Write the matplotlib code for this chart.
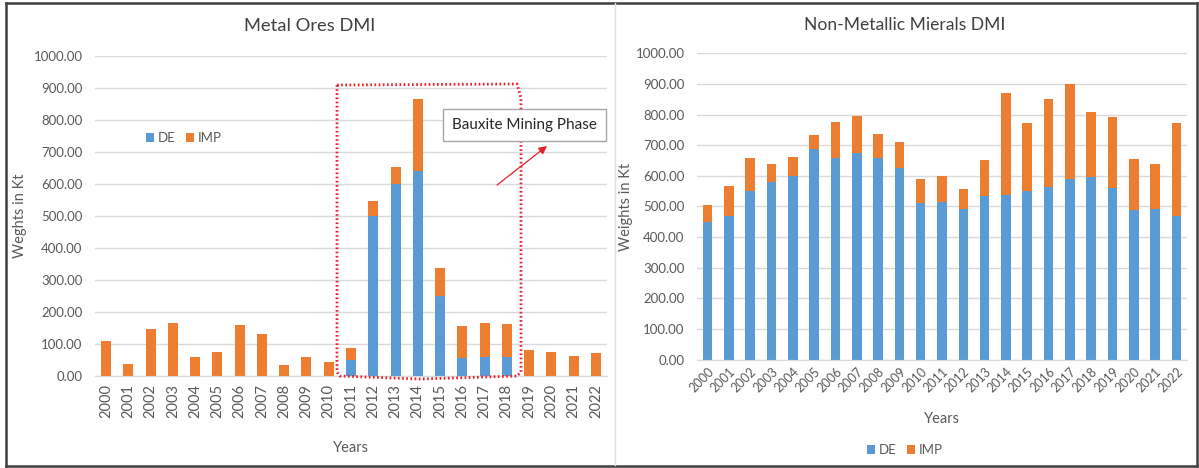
import matplotlib.pyplot as plt
from matplotlib.patches import Rectangle, Polygon
from matplotlib.lines import Line2D
import numpy as np

plt.rcParams['font.family'] = ['Lato', 'DejaVu Sans']

years = [str(y) for y in range(2000, 2023)]

# Metal ores: domestic extraction and imports (kt)
metal_de = [0, 0, 0, 0, 0, 0, 0, 0, 0, 0, 0,
            49, 500, 600, 639, 249, 55, 57, 57,
            0, 0, 0, 0]
metal_imp = [110, 37, 145, 164, 57, 74, 158, 130, 34, 59, 44,
             39, 48, 54, 227, 88, 101, 107, 105,
             79, 74, 63, 72]

# Non-metallic minerals: domestic extraction and imports (kt)
nonmet_de = [451, 470, 551, 580, 601, 687, 658, 673, 658, 625, 512, 514,
             493, 533, 539, 551, 563, 591, 595, 560, 488, 493, 470]
nonmet_imp = [55, 98, 106, 59, 59, 47, 119, 123, 79, 86, 77, 87,
              63, 119, 330, 221, 288, 309, 213, 231, 167, 145, 302]

blue = '#5B9BD5'
orange = '#ED7D31'
grid_c = '#D9D9D9'
text_c = '#595959'

W, H = 1199, 468
fig = plt.figure(figsize=(W / 100, H / 100), dpi=100)


def fx(px):
    return px / W


def fy(py):
    return 1 - py / H


def style_axes(ax):
    ax.set_ylim(0, 1000)
    ax.set_xlim(-0.5, len(years) - 0.5)
    ax.set_yticks(np.arange(0, 1001, 100))
    ax.set_yticklabels(['%.2f' % v for v in np.arange(0, 1001, 100)])
    ax.yaxis.grid(True, color=grid_c, lw=1)
    ax.set_axisbelow(True)
    for s in ['top', 'right', 'left']:
        ax.spines[s].set_visible(False)
    ax.spines['bottom'].set_color(grid_c)
    ax.tick_params(length=0, colors=text_c, labelsize=9.5)
    ax.tick_params(axis='y', pad=9)


x = np.arange(len(years))

# left chart
ax1 = fig.add_axes([fx(95), fy(375.7), fx(512), (375.7 - 56) / H])
ax1.bar(x, metal_de, width=0.45, color=blue, label='DE')
ax1.bar(x, metal_imp, width=0.45, bottom=metal_de, color=orange, label='IMP')
style_axes(ax1)
ax1.set_xticks(x)
ax1.set_xticklabels(years, rotation=90, fontsize=10.5)
ax1.tick_params(axis='x', pad=6)
ax1.set_ylabel('Weghts in Kt', color=text_c, fontsize=10.5)
ax1.yaxis.set_label_coords(fx(27 - 95) / fx(512), 0.5)
ax1.set_xlabel('Years', color=text_c, fontsize=10.5)
ax1.xaxis.set_label_coords(0.5, -(441 - 375.7) / (375.7 - 56))
ax1.legend(loc='center', bbox_to_anchor=((184 - 95) / 512, (375.7 - 138) / 319.7),
           ncol=2, frameon=False, fontsize=9.5, handlelength=0.6, handleheight=0.6,
           handletextpad=0.3, columnspacing=0.8, labelcolor=text_c)


def to_data(px, py):
    return ((px - 95) / (512 / 23) - 0.5, (375.7 - py) / 0.3197)


# dotted outline round the bauxite years
outline_px = [(337, 85), (517, 84), (521, 98), (521, 372), (517, 376),
              (420, 379), (340, 376), (337, 372)]
ax1.add_patch(Polygon([to_data(*p) for p in outline_px], closed=True, fill=False,
                      edgecolor='#E8202A', lw=2, ls=(0, (0.6, 0.9)),
                      clip_on=False, zorder=5))
ax1.annotate('', xy=to_data(547, 146), xytext=to_data(497, 185),
             arrowprops=dict(arrowstyle='-|>', color='#E8202A', lw=0.9,
                             mutation_scale=12, shrinkA=0, shrinkB=0),
             annotation_clip=False, zorder=6)
fig.patches.append(Rectangle((fx(443), fy(141)), fx(163), (141 - 109) / H,
                             transform=fig.transFigure, facecolor='white',
                             edgecolor='#A6A6A6', lw=1, zorder=7))
fig.text(fx(524.5), fy(125.5), 'Bauxite Mining Phase', ha='center', va='center',
         fontsize=11, color='#262626', zorder=8)
fig.text(fx(310), fy(26), 'Metal Ores DMI', ha='center', va='center',
         fontsize=13.2, color='#404040')

# right chart
ax2 = fig.add_axes([fx(697), fy(359.7), fx(490), (359.7 - 53.3) / H])
ax2.bar(x, nonmet_de, width=0.45, color=blue, label='DE')
ax2.bar(x, nonmet_imp, width=0.45, bottom=nonmet_de, color=orange, label='IMP')
style_axes(ax2)
ax2.set_xticks(x)
ax2.set_xticklabels(years, rotation=45, ha='right', rotation_mode='anchor', fontsize=9)
ax2.tick_params(axis='x', pad=4)
ax2.set_ylabel('Weights in Kt', color=text_c, fontsize=10.5)
ax2.yaxis.set_label_coords(fx(633 - 697) / fx(490), 0.5)
ax2.set_xlabel('Years', color=text_c, fontsize=10.5)
ax2.xaxis.set_label_coords(0.5, -(412 - 359.7) / (359.7 - 53.3))
ax2.legend(loc='center', bbox_to_anchor=((905 - 697) / 490, -(450 - 359.7) / 306.4),
           ncol=2, frameon=False, fontsize=9.5, handlelength=0.6, handleheight=0.6,
           handletextpad=0.3, columnspacing=0.8, labelcolor=text_c)
fig.text(fx(905), fy(25), 'Non-Metallic Mierals DMI', ha='center', va='center',
         fontsize=12.6, color='#404040')

# panel frames
frame_c = '#3F3F3F'
for xs, ys in [([6, 1197], [2.5, 2.5]), ([6, 1197], [465.5, 465.5]),
               ([6, 6], [2.5, 465.5]), ([1196.5, 1196.5], [2.5, 465.5])]:
    fig.add_artist(Line2D([fx(v) for v in xs], [fy(v) for v in ys],
                          transform=fig.transFigure, color=frame_c, lw=1.8))
fig.add_artist(Line2D([fx(615), fx(615)], [fy(3), fy(465)],
                      transform=fig.transFigure, color='#E0E0E0', lw=1))

plt.savefig('out.png', dpi=100)
plt.close()
